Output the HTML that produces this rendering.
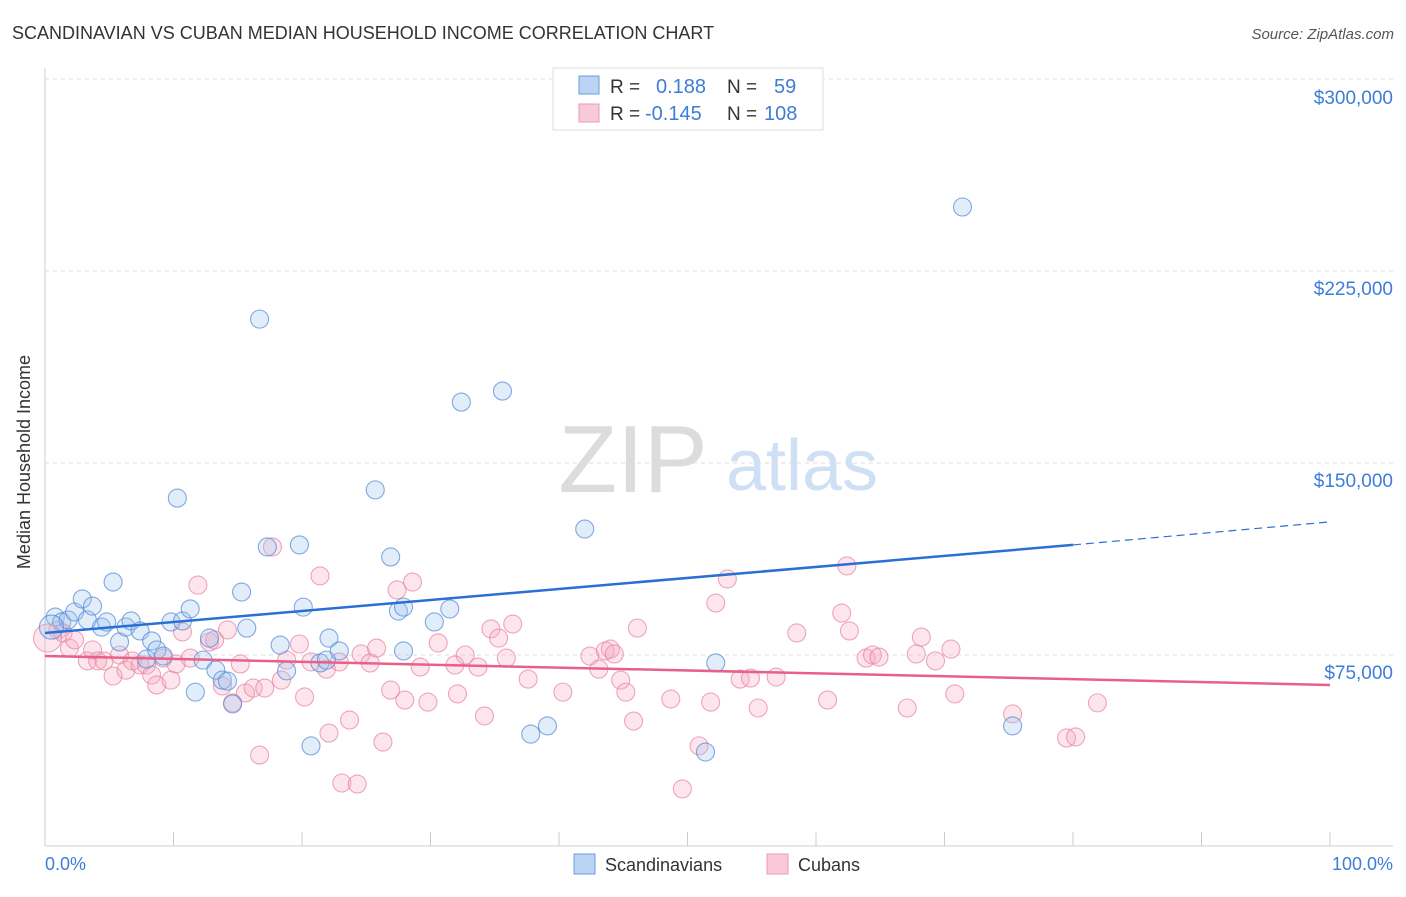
<!DOCTYPE html>
<html><head><meta charset="utf-8"><style>
body{margin:0;background:#fff;font-family:"Liberation Sans",sans-serif;}
svg text{font-family:"Liberation Sans",sans-serif;}
</style></head><body>
<svg width="1406" height="892" viewBox="0 0 1406 892">
<text x="12" y="39" font-size="18" fill="#333">SCANDINAVIAN VS CUBAN MEDIAN HOUSEHOLD INCOME CORRELATION CHART</text>
<text x="1394" y="39" font-size="15" fill="#555" text-anchor="end" font-style="italic">Source: ZipAtlas.com</text>
<g id="grid"></g>
<g>
<text x="633" y="492" font-size="96" fill="#dcdcdc" text-anchor="middle" font-family="Liberation Serif, serif">ZIP</text>
<text x="802" y="490" font-size="72" fill="#cfe0f5" text-anchor="middle">atlas</text>
</g>
<g id="axes"></g>
<g id="pts"></g>
<g id="trend"></g>
<text x="24" y="456" font-size="18" fill="#333" text-anchor="middle" transform="rotate(-90 30 456)">Median Household Income</text>
<text x="45" y="870" font-size="18" fill="#3d7dd8">0.0%</text>
<text x="1393" y="870" font-size="18" fill="#3d7dd8" text-anchor="end">100.0%</text>
<g>
<rect x="553" y="68" width="270" height="62" fill="#fff" stroke="#ddd"/>
<rect x="579" y="76" width="20" height="18" fill="#bcd4f4" stroke="#6b9be0"/>
<rect x="579" y="104" width="20" height="18" fill="#f8c9d8" stroke="#ec9ab4"/>
<text x="610" y="93" font-size="19" fill="#333">R =</text><text x="656" y="93" font-size="20" fill="#3d7dd8">0.188</text>
<text x="727" y="93" font-size="19" fill="#333">N =</text><text x="774" y="93" font-size="20" fill="#3d7dd8">59</text>
<text x="610" y="120" font-size="19" fill="#333">R =</text><text x="645" y="120" font-size="20" fill="#3d7dd8">-0.145</text>
<text x="727" y="120" font-size="19" fill="#333">N =</text><text x="764" y="120" font-size="20" fill="#3d7dd8">108</text>
</g>
<g>
<rect x="574" y="854" width="21" height="20" fill="#bcd4f4" stroke="#6b9be0"/>
<text x="605" y="871" font-size="18" fill="#333">Scandinavians</text>
<rect x="767" y="854" width="21" height="20" fill="#f8c9d8" stroke="#ec9ab4"/>
<text x="798" y="871" font-size="18" fill="#333">Cubans</text>
</g>
</svg>
<script>
const yTicks=[75000,150000,225000,300000];
const yTickLabels=["$75,000","$150,000","$225,000","$300,000"];
const xTicks=[0,10,20,30,40,50,60,70,80,90,100];
const blueX=[0.8,1.3,1.8,2.3,2.9,3.3,3.7,4.4,4.8,5.3,5.8,6.3,6.7,7.4,7.9,8.3,8.7,9.2,9.8,10.3,10.7,11.3,11.7,12.3,12.8,13.3,13.8,14.2,14.6,15.3,15.7,16.7,17.3,18.3,18.8,19.8,20.1,20.7,21.4,21.9,22.1,22.9,25.7,26.9,27.5,27.9,27.9,30.3,31.5,32.4,35.6,37.8,39.1,42.0,51.4,52.2,71.4,75.3];
const blueY=[89.8,87.9,88.7,91.8,96.9,88.7,94.1,85.9,87.9,103.5,80.1,85.9,88.3,84.4,73.4,80.5,77.0,74.6,87.9,136.3,88.3,93.0,60.5,73.0,81.6,69.1,65.2,64.8,55.9,99.6,85.5,206.2,117.2,78.9,68.8,118.0,93.7,39.5,71.9,73.0,81.6,76.6,139.5,113.3,92.2,93.7,76.6,87.9,93.0,173.8,178.1,44.1,47.3,124.2,37.1,71.9,250.0,47.3];
const pinkX=[1.0,1.4,1.9,2.3,3.3,3.7,4.1,4.6,5.3,5.8,6.3,6.8,7.4,7.9,8.3,8.7,9.2,9.8,10.2,10.7,11.3,11.9,12.8,13.2,13.8,14.2,14.6,15.2,15.6,16.2,16.7,17.1,17.7,18.4,18.8,19.8,20.2,20.7,21.4,21.9,22.1,22.9,23.7,23.1,24.3,24.6,25.3,25.8,26.3,26.9,27.4,28.0,28.6,29.2,29.8,30.6,31.9,32.1,32.7,33.7,34.2,34.7,35.3,35.9,36.4,37.6,40.3,42.4,43.1,43.6,44.0,44.3,44.8,45.2,45.8,46.1,48.7,49.6,50.9,51.8,52.2,53.1,54.1,54.9,55.5,56.9,58.5,60.9,62.0,62.4,62.6,63.9,64.4,64.9,67.1,67.8,68.2,69.3,70.5,70.8,75.3,79.5,80.2,81.9];
const pinkY=[84.8,83.6,77.7,80.9,72.7,77.0,72.7,72.7,66.8,75.0,69.1,72.7,71.1,71.1,67.2,63.3,73.8,65.2,71.5,84.0,73.8,102.3,80.1,80.9,62.9,84.8,56.3,71.5,60.2,62.1,35.9,62.1,117.2,65.2,73.0,79.3,58.6,72.3,105.9,69.5,44.5,72.3,49.6,25.0,24.6,75.4,71.9,77.7,41.0,61.3,100.4,57.4,103.5,70.3,56.6,79.7,71.1,59.8,75.0,70.3,51.2,85.2,81.6,73.8,87.1,65.6,60.5,74.6,69.5,76.6,77.3,75.4,65.2,60.5,49.2,85.5,57.8,22.7,39.5,56.6,95.3,104.7,65.6,66.0,54.3,66.4,83.6,57.4,91.4,109.8,84.4,73.8,75.0,74.2,54.3,75.4,82.0,72.7,77.3,59.8,52.0,42.6,43.0,56.3];
const bigX=[0.5,0.2];const bigY=[85.9,81.6];
const blueTrend=[[0,83.6],[80,118.0],[100,127.0]];
const pinkTrend=[[0,74.6],[100,63.3]];
const NS="http://www.w3.org/2000/svg";
const sx=p=>45+p*12.85;
const sy=v=>655-(v-75)*192/75;
function mk(t,a,parent){const e=document.createElementNS(NS,t);for(const k in a)e.setAttribute(k,a[k]);parent.appendChild(e);return e;}
const grid=document.getElementById('grid'),axes=document.getElementById('axes'),pts=document.getElementById('pts'),tr=document.getElementById('trend');
yTicks.forEach((v,i)=>{
 const y=sy(v/1000);
 const l=mk('line',{x1:45,x2:1393,y1:y,y2:y,stroke:'#ddd','stroke-dasharray':'4,4'},grid);
 
 
 const t=mk('text',{x:1393,y:y+24,'font-size':19,fill:'#3d7dd8','text-anchor':'end'},axes);
 if(i==3)t.setAttribute('y',y+25);
 t.textContent=yTickLabels[i];
 
 
});
mk('line',{x1:45,x2:45,y1:68,y2:846,stroke:'#ccc'},axes);
mk('line',{x1:45,x2:1393,y1:846,y2:846,stroke:'#ccc'},axes);
xTicks.forEach(p=>{const l=mk('line',{x1:sx(p),x2:sx(p),y1:832,y2:846,stroke:'#ccc'},axes);
 
 });
function dot(x,y,r,fill,stroke,name){const c=mk('circle',{cx:sx(x),cy:sy(y),r:r,fill:fill,'fill-opacity':0.3,stroke:stroke,'stroke-opacity':0.7,'stroke-width':1.1},pts);
 
 }
pinkX.forEach((x,i)=>dot(x,pinkY[i],9,'#f4a9c0','#e8819f','cuban-point'));
blueX.forEach((x,i)=>dot(x,blueY[i],9,'#9fc2ee','#4f86d6','scandinavian-point'));
dot(bigX[1],bigY[1],14,'#f4a9c0','#e8819f','cuban-point');
dot(bigX[0],bigY[0],12,'#9fc2ee','#4f86d6','scandinavian-point');
const b1=mk('line',{x1:sx(blueTrend[0][0]),y1:sy(blueTrend[0][1]),x2:sx(blueTrend[1][0]),y2:sy(blueTrend[1][1]),stroke:'#2a6fd6','stroke-width':2.5},tr);


const b2=mk('line',{x1:sx(blueTrend[1][0]),y1:sy(blueTrend[1][1]),x2:sx(blueTrend[2][0]),y2:sy(blueTrend[2][1]),stroke:'#2a6fd6','stroke-width':1.2,'stroke-dasharray':'8,5'},tr);


const p1=mk('line',{x1:sx(pinkTrend[0][0]),y1:sy(pinkTrend[0][1]),x2:sx(pinkTrend[1][0]),y2:sy(pinkTrend[1][1]),stroke:'#e8608a','stroke-width':2.5},tr);


</script>
</body></html>
